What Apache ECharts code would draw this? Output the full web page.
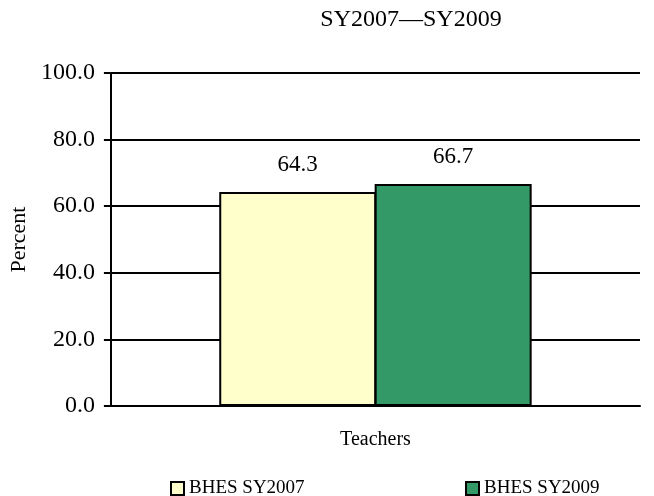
<!DOCTYPE html>
<html>
<head>
<meta charset="utf-8">
<script src="https://cdn.jsdelivr.net/npm/echarts@6/dist/echarts.min.js"></script>
<style>
  html, body { margin: 0; padding: 0; background: #fff; }
  #chart { width: 654px; height: 496px; }
</style>
</head>
<body>
<div id="chart"></div>
<script>
// 数据
var categories = ['Teachers'];
var seriesNames = ['BHES SY2007', 'BHES SY2009'];
var sy2007 = [64.3];
var sy2009 = [66.7];
var colors = ['#FFFFCC', '#339966'];

var font = 'Liberation Serif, Times New Roman, serif';

var chart = echarts.init(document.getElementById('chart'));

var option = {
    backgroundColor: '#fff',
    animation: false,
    title: {
        text: 'SY2007\u2014SY2009',
        left: 406,
        top: 3,
        textAlign: 'center',
        textStyle: { fontFamily: font, fontSize: 24, fontWeight: 'normal', color: '#000' }
    },
    legend: [
        {
            data: [seriesNames[0]],
            left: 165, top: 474,
            icon: 'rect',
            itemWidth: 13, itemHeight: 13,
            textStyle: { fontFamily: font, fontSize: 19, color: '#000' }
        },
        {
            data: [seriesNames[1]],
            left: 460, top: 474,
            icon: 'rect',
            itemWidth: 13, itemHeight: 13,
            textStyle: { fontFamily: font, fontSize: 19, color: '#000' }
        }
    ],
    grid: { left: 102, right: 14, top: 73, bottom: 90 },
    xAxis: {
        type: 'category',
        data: categories,
        axisLine: { lineStyle: { color: '#000', width: 2 } },
        axisTick: { show: false },
        axisLabel: { fontFamily: font, fontSize: 20, color: '#000', margin: 24 }
    },
    yAxis: {
        type: 'value',
        min: 0, max: 100, interval: 20,
        name: 'Percent',
        nameLocation: 'middle',
        nameGap: 78,
        nameTextStyle: { fontFamily: font, fontSize: 22, color: '#000' },
        axisLine: { show: true, lineStyle: { color: '#000', width: 2 } },
        axisTick: { show: true, length: 7, lineStyle: { color: '#000', width: 2 } },
        axisLabel: {
            fontFamily: font, fontSize: 24, color: '#000', margin: 16,
            formatter: function (v) { return v.toFixed(1); }
        },
        splitLine: { lineStyle: { color: '#000', width: 2 } }
    },
    series: [
        {
            name: seriesNames[0],
            type: 'bar',
            data: sy2007,
            barWidth: 157,
            barGap: '-1%',
            itemStyle: { color: colors[0], borderColor: '#000', borderWidth: 2 },
            label: {
                show: true, position: 'top', distance: 15,
                fontFamily: font, fontSize: 23, color: '#000',
                formatter: function (p) { return p.value.toFixed(1); }
            }
        },
        {
            name: seriesNames[1],
            type: 'bar',
            data: sy2009,
            barWidth: 157,
            barGap: '-1%',
            itemStyle: { color: colors[1], borderColor: '#000', borderWidth: 2 },
            label: {
                show: true, position: 'top', distance: 15,
                fontFamily: font, fontSize: 23, color: '#000',
                formatter: function (p) { return p.value.toFixed(1); }
            }
        }
    ]
};

chart.setOption(option);
</script>
</body>
</html>
